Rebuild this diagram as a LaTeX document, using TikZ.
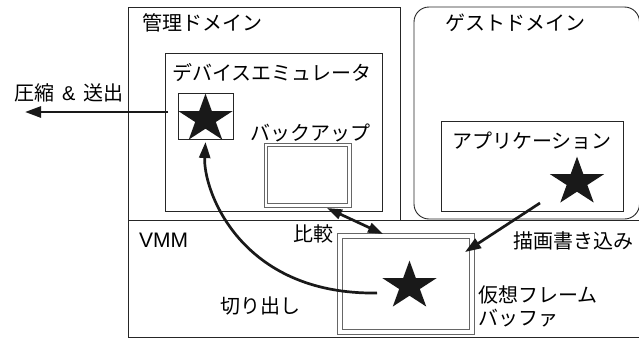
\documentclass[tikz,border=0pt]{standalone}
\usepackage{fontspec}
\setmainfont{Noto Sans CJK JP}
\newfontfamily\latinsf{Liberation Sans}
\usetikzlibrary{arrows.meta,calc}
\newcommand\drawstar[1]{\fill[black!90, shift={(#1)}, xscale=1.12] (-90:25.4) -- (-54:9.7) -- (-18:25.4) -- (18:9.7) -- (54:25.4) -- (90:9.7) -- (126:25.4) -- (162:9.7) -- (198:25.4) -- (234:9.7) -- cycle;}
\begin{document}
\begin{tikzpicture}[x=1pt,y=-1pt,
  frame/.style={draw=black!85, line width=0.9pt},
  dbl/.style={draw=black!60, line width=0.8pt},
  lbl/.style={anchor=west, inner sep=0pt, align=left, font=\fontsize{20}{23}\selectfont},
  arr/.style={line width=2.7pt, draw=black!90, -{Triangle[length=16pt,width=11pt]}},
  darr/.style={line width=2.7pt, draw=black!90, {Triangle[length=15pt,width=10pt]}-{Triangle[length=15pt,width=10pt]}},
  ]
\useasboundingbox (0,0) rectangle (639,338);
% domains
\draw[frame] (128,7) rectangle (400,220);
\draw[frame, rounded corners=15pt] (414,7) rectangle (639.5,219);
\draw[frame] (128,220) rectangle (646,337.5);
% device emulator box
\draw[frame] (165,53) rectangle (382,211);
% star box
\node[draw=black!85, line width=0.8pt, minimum width=55pt, minimum height=46pt, inner sep=0pt] (sbox) at (205.5,116) {};
% backup double box
\node[dbl, minimum width=87pt, minimum height=64pt, inner sep=0pt] (backup) at (307.5,175) {};
\node[dbl, minimum width=80pt, minimum height=57pt, inner sep=0pt] (backupin) at (307.5,175) {};
% application box
\draw[frame] (441,121) rectangle (623,211);
% frame buffer double box
\node[dbl, minimum width=137pt, minimum height=101pt, inner sep=0pt] (fb) at (405.5,283.5) {};
\node[dbl, minimum width=127pt, minimum height=91pt, inner sep=0pt] (fbin) at (405.5,283.5) {};
% stars
\coordinate (starA) at (205.5,119);
\coordinate (starB) at (409.5,286);
\coordinate (starC) at (577,182);
\drawstar{starA}
\drawstar{starB}
\drawstar{starC}
% labels
\node[lbl] (tmgmt) at (142,23) {管理ドメイン};
\node[lbl] (tguest) at (445,23) {ゲストドメイン};
\node[lbl] (temu) at (172,73) {デバイスエミュレータ};
\node[lbl] (tbak) at (250,133) {バックアップ};
\node[lbl] (tapp) at (452,141) {アプリケーション};
\node[lbl, font=\latinsf\fontsize{21}{23}\selectfont] (tvmm) at (139,240) {VMM};
\node[lbl] (tcmp) at (293,234) {比較};
\node[lbl] (tcut) at (220,306) {切り出し};
\node[lbl] (twrite) at (513,241) {描画書き込み};
\node[lbl] (tfb) at (478,306) {仮想フレーム\\バッファ};
\node[lbl] (tsend) at (14,93) {圧縮\hspace{8pt}{\latinsf\&}\hspace{8pt}送出};
% connectors
\coordinate (sendfrom) at (168,112);
\coordinate (sendto) at (25,112);
\draw[arr] (sendfrom) -- (sendto);
\coordinate (cutfrom) at (377,293);
\coordinate (cutto) at (205.5,142);
\draw[arr] (cutfrom) .. controls (240,295) and (203,190) .. (cutto);
\coordinate (cmpa) at (327,208);
\coordinate (cmpb) at (383,234);
\draw[darr] (cmpa) -- (cmpb);
\coordinate (wrfrom) at (540,203);
\coordinate (wrto) at (465,252);
\draw[arr] (wrfrom) -- (wrto);
\end{tikzpicture}
\end{document}
